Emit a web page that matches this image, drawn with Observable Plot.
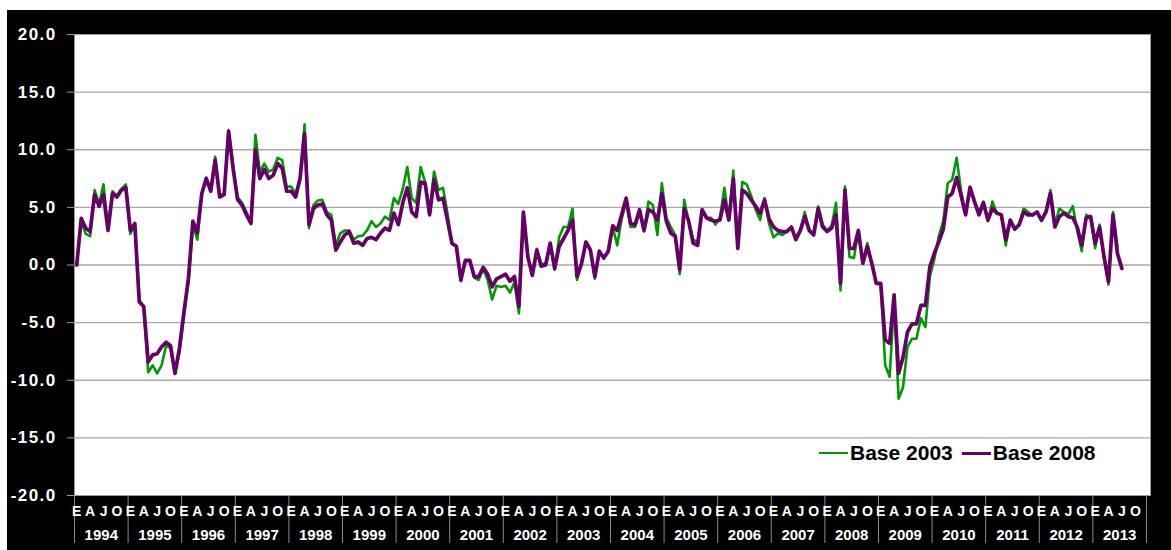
<!DOCTYPE html>
<html>
<head>
<meta charset="utf-8">
<script src="https://cdn.jsdelivr.net/npm/d3@7"></script>
<script src="https://cdn.jsdelivr.net/npm/@observablehq/plot@0.6"></script>
<style>
  html, body { margin: 0; padding: 0; background: #ffffff; }
  #wrap { position: relative; width: 1171px; height: 550px; overflow: hidden; }
  #chart { position: absolute; left: 7px; top: 10px; }
  #chart svg { display: block; }
  #chart g[aria-label="y-axis tick label"] text { letter-spacing: 1.4px; }
  #legend { position: absolute; left: 819px; top: 441px; display: flex; align-items: center;
            font-family: "Liberation Sans", Arial, sans-serif; font-weight: bold; font-size: 21px; color: #000; }
  #legend .sw { display: inline-block; width: 29px; height: 0; margin-right: 2px; }
  #legend .item { display: flex; align-items: center; margin-right: 9px; }
</style>
</head>
<body>
<div id="wrap">
  <div id="chart"></div>
  <div id="legend"></div>
</div>
<script>
// ---- data ----
const years = [1994,1995,1996,1997,1998,1999,2000,2001,2002,2003,2004,2005,2006,2007,2008,2009,2010,2011,2012,2013];
const monthLetters = ["E", "A", "J", "O"]; // Enero, Abril, Julio, Octubre
const yTicks = [-20, -15, -10, -5, 0, 5, 10, 15, 20];
const seriesNames = ["Base 2003", "Base 2008"];
const seriesColors = ["#009a00", "#660066"];

// Monthly values, Jan 1994 onward
const base2003 = [
  0.0, 3.8, 2.7, 2.5, 6.5, 5.3, 7.0, 3.1, 6.4, 6.0, 6.6, 7.0,
  2.7, 3.5, -3.0, -3.7, -9.3, -8.7, -9.4, -8.7, -7.0, -7.2, -9.4, -7.6,
  -4.3, -1.5, 3.5, 2.2, 6.2, 7.6, 6.5, 9.4, 6.0, 6.2, 11.7, 8.6,
  5.9, 5.4, 4.6, 3.7, 11.3, 8.1, 8.8, 8.1, 8.3, 9.3, 9.1, 6.8,
  6.8, 6.2, 7.5, 12.2, 3.2, 5.2, 5.6, 5.65, 4.6, 4.35, 1.7, 2.75,
  3.0, 3.0, 2.2, 2.5, 2.55, 3.0, 3.8, 3.3, 3.6, 4.2, 3.9, 5.8,
  5.3, 6.6, 8.5, 5.8, 5.4, 8.5, 7.2, 4.7, 8.1, 6.5, 6.7, 4.5,
  1.8, 1.7, -1.4, 0.3, 0.4, -1.1, -1.3, -0.3, -1.3, -3.0, -1.8, -1.9,
  -1.8, -2.4, -1.5, -4.2, 4.5, 0.7, -0.7, 1.4, 0.0, 0.2, 1.9, -0.4,
  2.4, 3.3, 3.3, 4.9, -1.3, 0.1, 2.0, 1.3, -1.2, 1.2, 0.6, 1.2,
  3.3, 1.7, 4.0, 5.5, 3.3, 3.3, 4.6, 2.9, 5.5, 5.2, 2.6, 7.1,
  4.1, 3.3, 2.6, -0.8, 5.65, 3.8, 2.2, 2.0, 4.7, 4.1, 4.1, 3.5,
  4.1, 6.7, 3.9, 8.2, 1.5, 7.2, 7.0, 6.0, 4.8, 3.9, 5.8, 3.6,
  2.4, 2.75, 2.6, 2.9, 3.2, 2.3, 3.0, 4.6, 3.0, 2.8, 5.1, 3.5,
  3.0, 3.4, 5.4, -2.2, 6.8, 0.7, 0.6, 3.0, 0.2, 1.9, 0.1, -1.6,
  -1.7, -8.7, -9.7, -3.0, -11.6, -10.6, -7.1, -6.4, -6.4, -4.6, -5.4, -1.0,
  0.5, 2.5, 3.8, 7.1, 7.4, 9.3, 6.4, 4.5, 6.7, 5.4, 4.6, 5.5,
  3.8, 5.5, 4.5, 4.4, 1.7, 3.9, 3.2, 3.5, 4.9, 4.6, 4.3, 4.6,
  3.8, 4.7, 6.5, 3.5, 4.9, 4.6, 4.4, 5.1, 3.0, 1.2, 4.35, 4.2,
  1.45, 3.5, 0.6, -1.7, 4.6, 1.6
];
const base2008 = [
  0.0, 4.05, 3.2, 2.9, 6.1, 5.1, 6.1, 3.0, 6.2, 5.9, 6.5, 6.7,
  3.0, 3.6, -3.2, -3.6, -8.4, -7.8, -7.7, -7.1, -6.7, -7.0, -9.4, -7.2,
  -4.1, -1.2, 3.8, 2.8, 6.2, 7.5, 6.4, 9.1, 5.9, 6.1, 11.6, 8.4,
  5.7, 5.2, 4.35, 3.6, 10.0, 7.5, 8.3, 7.5, 7.8, 8.8, 8.4, 6.4,
  6.4, 5.9, 7.5, 11.4, 3.5, 4.9, 5.2, 5.3, 4.35, 3.9, 1.3, 2.0,
  2.6, 2.9, 1.9, 2.0, 1.7, 2.3, 2.4, 2.2, 2.75, 3.2, 3.0, 4.5,
  3.5, 5.4, 6.7, 4.6, 4.2, 7.2, 7.1, 4.35, 7.4, 5.65, 5.8, 3.9,
  1.9, 1.6, -1.3, 0.4, 0.4, -1.0, -1.0, -0.2, -0.8, -1.9, -1.2, -1.0,
  -0.8, -1.4, -1.0, -3.6, 4.6, 0.7, -0.9, 1.3, -0.1, 0.0, 1.9, -0.3,
  1.6, 2.3, 3.0, 3.9, -1.0, 0.1, 2.0, 1.3, -1.0, 1.2, 0.6, 1.2,
  3.4, 3.0, 4.35, 5.8, 3.6, 3.5, 4.8, 3.0, 4.8, 4.6, 3.9, 6.2,
  3.8, 2.75, 2.5, -0.4, 4.9, 3.8, 1.9, 1.7, 4.8, 4.1, 3.9, 3.8,
  3.9, 5.65, 3.9, 7.5, 1.45, 6.5, 6.2, 5.65, 5.1, 4.5, 5.65, 4.0,
  3.3, 3.0, 2.9, 2.9, 3.3, 2.2, 3.0, 4.2, 3.0, 2.6, 4.9, 3.3,
  2.9, 3.2, 4.35, -1.6, 6.5, 1.45, 1.45, 3.0, 0.15, 1.6, 0.15, -1.6,
  -1.6, -6.5, -6.8, -2.6, -9.4, -8.0, -5.8, -5.1, -5.1, -3.5, -3.5, -0.15,
  1.0, 2.0, 3.1, 5.9, 6.2, 7.6, 6.0, 4.35, 6.75, 5.5, 4.35, 5.4,
  3.9, 4.9, 4.5, 4.35, 2.2, 3.9, 3.1, 3.5, 4.6, 4.35, 4.35, 4.6,
  3.9, 4.6, 6.2, 3.3, 4.2, 4.5, 4.2, 4.1, 3.3, 1.7, 4.1, 4.2,
  1.9, 3.3, 0.7, -1.45, 4.35, 1.0, -0.3
];

// ---- derived tick positions (month index) ----
const nMonths = years.length * 12;
const monthTicks = d3.range(0, nMonths, 3);
const yearMid = years.map((y, k) => k * 12 + 5.5);
const yearBounds = d3.range(0, years.length + 1).map(k => k * 12 - 0.5);
const gridValues = yTicks.filter(v => v > yTicks[0] && v < yTicks[yTicks.length - 1]);

const font = "'Liberation Sans', Arial, Helvetica, sans-serif";

const chart = Plot.plot({
  width: 1164,
  height: 540,
  marginLeft: 67,
  marginRight: 21,
  marginTop: 24,
  marginBottom: 55,
  style: { background: "#000", fontFamily: font },
  x: { type: "linear", domain: [-0.5, nMonths + 0.4] },
  y: { domain: [yTicks[0], yTicks[yTicks.length - 1]] },
  marks: [
    Plot.frame({ fill: "#ffffff", stroke: null }),
    Plot.ruleY(gridValues, { stroke: "#a9a9a9", strokeWidth: 1.3 }),
    Plot.axisY(yTicks, {
      tickFormat: d => d.toFixed(1),
      tickSize: 7, tickPadding: 11,
      stroke: "#9a9a9a", fill: "#ffffff",
      fontSize: 17, fontWeight: "bold"
    }),
    Plot.axisX(yearBounds, {
      tickSize: 48, tickFormat: () => "",
      stroke: "#8a8a8a", strokeWidth: 1
    }),
    Plot.axisX(monthTicks, {
      tickSize: 0, tickPadding: 11,
      tickFormat: i => monthLetters[(i % 12) / 3],
      fill: "#ffffff", fontSize: 14, fontWeight: "bold"
    }),
    Plot.axisX(yearMid, {
      tickSize: 0, tickPadding: 34,
      tickFormat: d => String(years[Math.round((d - 5.5) / 12)]),
      fill: "#ffffff", fontSize: 15, fontWeight: "bold"
    }),
    Plot.line(base2003, { x: (d, i) => i, y: d => d, stroke: seriesColors[0], strokeWidth: 2.6, strokeLinejoin: "round" }),
    Plot.line(base2008, { x: (d, i) => i, y: d => d, stroke: seriesColors[1], strokeWidth: 3.7, strokeLinejoin: "round" }),
    Plot.frame({ stroke: "#9a9a9a", strokeWidth: 1 })
  ]
});
document.getElementById("chart").appendChild(chart);

// legend
const legend = document.getElementById("legend");
seriesNames.forEach((name, k) => {
  const item = document.createElement("div");
  item.className = "item";
  const sw = document.createElement("span");
  sw.className = "sw";
  sw.style.borderTop = (k === 0 ? "2.5px" : "3.5px") + " solid " + seriesColors[k];
  const label = document.createElement("span");
  label.textContent = name;
  item.appendChild(sw);
  item.appendChild(label);
  legend.appendChild(item);
});
</script>
</body>
</html>
